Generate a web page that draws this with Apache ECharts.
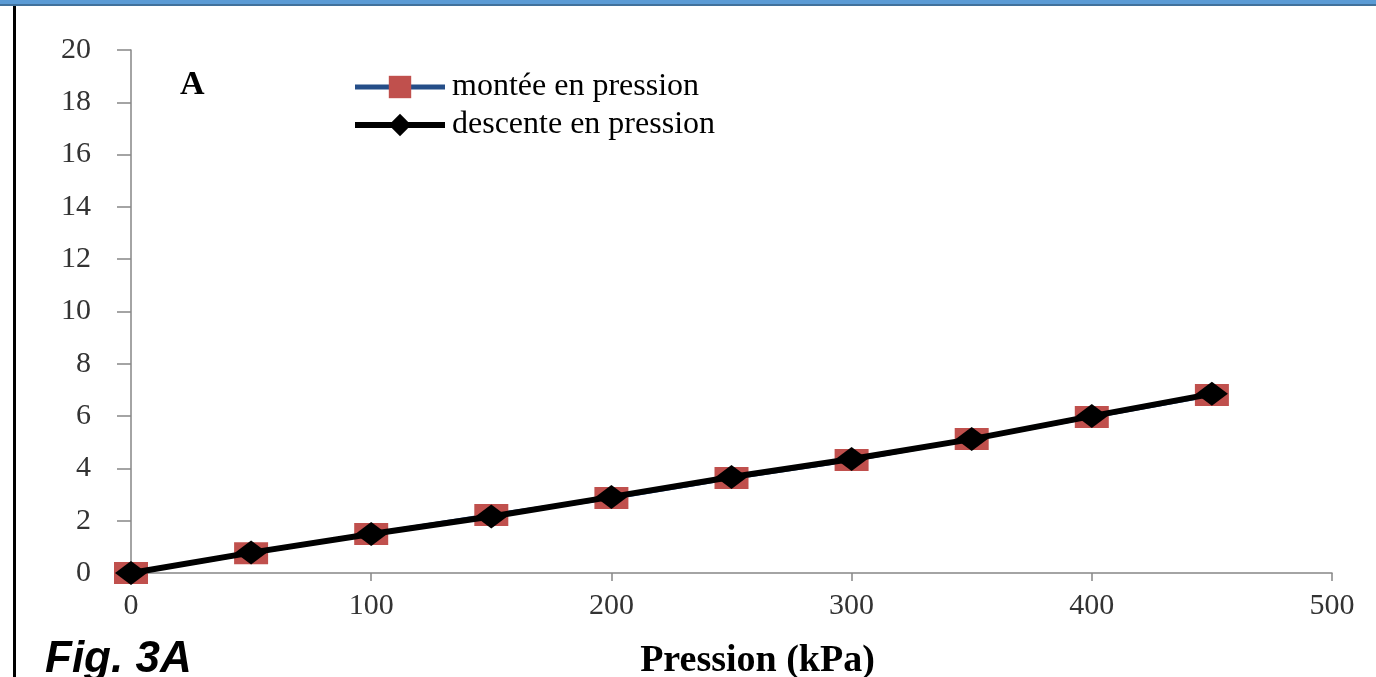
<!DOCTYPE html>
<html>
<head>
<meta charset="utf-8">
<script src="https://cdn.jsdelivr.net/npm/echarts@6/dist/echarts.min.js"></script>
<style>
  html, body { margin: 0; padding: 0; background: #fff; }
  #chart { width: 1376px; height: 677px; }
</style>
</head>
<body>
<div id="chart"></div>
<script>
// pression (kPa)
var pression = [0, 50, 100, 150, 200, 250, 300, 350, 400, 450]
var montee = [0, 0.76, 1.49, 2.22, 2.87, 3.63, 4.32, 5.12, 5.97, 6.81]
var descente = [0, 0.78, 1.49, 2.16, 2.91, 3.67, 4.36, 5.12, 6.0, 6.85]
var seriesNames = ['montée en pression', 'descente en pression']

function pairs(xs, ys) {
    return xs.map(function(x, i) { return [x, ys[i]] })
}

var serif = '"Liberation Serif", "Times New Roman", serif'
var mychart = echarts.init(document.getElementById('chart'))
mychart.setOption({
    backgroundColor: '#fff',
    animation: false,
    grid: { left: 131, right: 44, top: 50, bottom: 104, outerBoundsMode: 'none', containLabel: false },
    graphic: [
        { type: 'rect', shape: { x: 0, y: 0, width: 1376, height: 4 }, style: { fill: '#5b9bd5' } },
        { type: 'rect', shape: { x: 0, y: 4, width: 1376, height: 2 }, style: { fill: '#41719c' } },
        { type: 'rect', shape: { x: 13, y: 6, width: 3, height: 671 }, style: { fill: '#000' } },
        { type: 'text', left: 180, top: 68, style: { text: 'A', font: 'bold 34px ' + serif, fill: '#000' } },
        { type: 'text', left: 45, top: 638, style: { text: 'Fig. 3A', font: 'italic bold 44px "Liberation Sans", sans-serif', fill: '#000' } }
    ],
    legend: {
        orient: 'vertical',
        left: 352,
        top: 71,
        padding: 0,
        itemWidth: 90,
        itemHeight: 28,
        itemGap: 6,
        data: [
            { name: seriesNames[0], lineStyle: { width: 5 } },
            { name: seriesNames[1], lineStyle: { width: 6 } }
        ],
        textStyle: { fontFamily: serif, fontSize: 32, color: '#000', padding: [0, 0, 0, 2] }
    },
    xAxis: {
        type: 'value',
        min: 0,
        max: 500,
        interval: 100,
        name: 'Pression (kPa)',
        nameLocation: 'middle',
        nameGap: 69,
        nameTextStyle: { fontFamily: serif, fontSize: 38, fontWeight: 'bold', color: '#000', padding: [0, 0, 0, 52] },
        axisLine: { lineStyle: { color: '#868686', width: 1.5 } },
        axisTick: { show: true, inside: false, length: 8, lineStyle: { color: '#868686', width: 1.5 } },
        axisLabel: { fontFamily: serif, fontSize: 30, color: '#333', margin: 18 },
        splitLine: { show: false }
    },
    yAxis: {
        type: 'value',
        min: 0,
        max: 20,
        interval: 2,
        axisLine: { show: true, lineStyle: { color: '#868686', width: 1.5 } },
        axisTick: { show: true, inside: false, length: 14, lineStyle: { color: '#868686', width: 1.5 } },
        axisLabel: { fontFamily: serif, fontSize: 30, color: '#333', margin: 40 },
        splitLine: { show: false }
    },
    series: [{
        name: seriesNames[0],
        type: 'line',
        data: pairs(pression, montee),
        symbol: 'rect',
        symbolSize: [34, 22],
        lineStyle: { color: '#254e88', width: 4 },
        itemStyle: { color: '#c0504d' },
        z: 2
    }, {
        name: seriesNames[1],
        type: 'line',
        data: pairs(pression, descente),
        symbol: 'diamond',
        symbolSize: [32, 24],
        lineStyle: { color: '#000', width: 6 },
        itemStyle: { color: '#000' },
        z: 3
    }]
})
</script>
</body>
</html>
